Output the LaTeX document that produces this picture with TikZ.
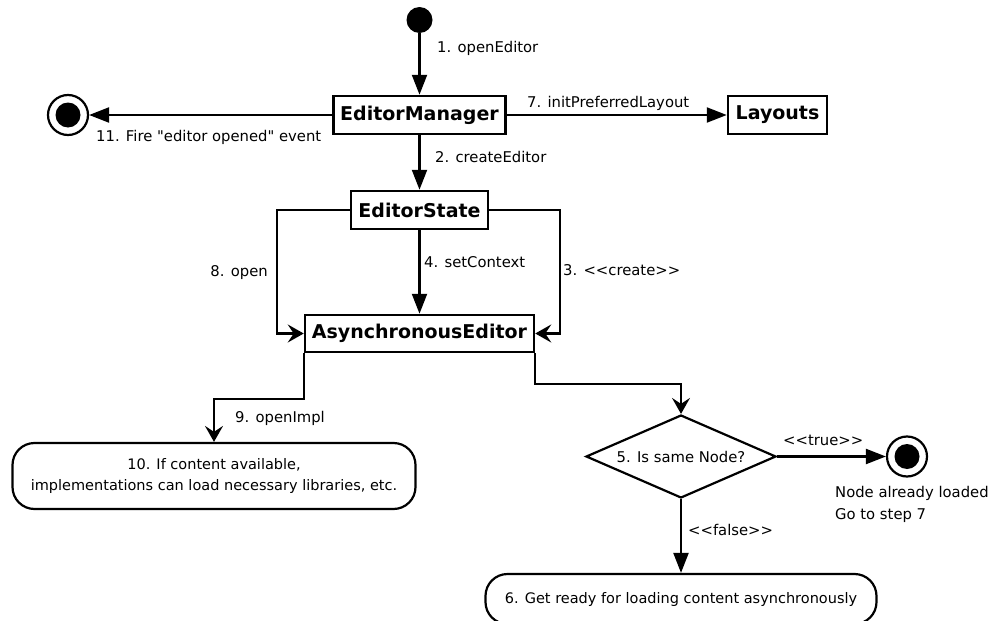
\documentclass[tikz,border=0pt]{standalone}
\usepackage{fontspec}
\setmainfont{DejaVu Sans}[Ligatures=TeXOff]
\usetikzlibrary{arrows.meta,shapes.geometric}
\begin{document}
\begin{tikzpicture}[x=1pt,y=-1pt,
  box/.style={draw,line width=2.5pt,inner sep=0pt,font=\fontsize{19}{22}\selectfont\bfseries},
  lbl/.style={inner sep=0pt,font=\fontsize{14.8}{17}\selectfont},
  rbox/.style={draw,line width=2.2pt,rounded corners=22pt,inner sep=0pt,align=center,font=\fontsize{14.5}{21}\selectfont},
  conn/.style={line width=2.2pt},
  tri/.style={conn,-{Triangle[length=20pt,width=15pt]}},
  opn/.style={conn,-{Stealth[length=16pt,width=18pt,inset=6pt]}},
  fin/.style={draw,circle,line width=2.2pt,minimum size=40pt,inner sep=0pt}]
\useasboundingbox (0,0) rectangle (997,621);
% nodes
\node[circle,fill=black,minimum size=26pt,inner sep=0pt] (start) at (419.5,20) {};
\node[box,minimum width=172pt,minimum height=38pt] (em) at (419.5,115) {EditorManager};
\node[box,minimum width=99pt,minimum height=38pt] (lay) at (777.5,115) {Layouts};
\node[fin] (fin1) at (68,115) {};
\fill (fin1.center) circle (12.5pt);
\node[box,minimum width=137pt,minimum height=38pt] (es) at (419.5,210) {EditorState};
\node[box,minimum width=229pt,minimum height=37pt] (ae) at (419.5,333.5) {AsynchronousEditor};
\node[rbox,minimum width=403pt,minimum height=66pt] (b10) at (214,476) {\raisebox{-3pt}{\begin{tabular}{@{}c@{}}10. If content available,\\implementations can load necessary libraries, etc.\end{tabular}}};
\node[draw,diamond,line width=2.2pt,inner sep=0pt,shape aspect=2.29,minimum width=190pt,minimum height=83pt,font=\fontsize{14.8}{17}\selectfont] (dia) at (681,456.5) {5. Is same Node?};
\node[fin] (fin2) at (907,456.5) {};
\fill (fin2.center) circle (12.5pt);
\node[rbox,rounded corners=22pt,minimum width=391pt,minimum height=50pt] (b6) at (681,599) {6. Get ready for loading content asynchronously};
% connectors
\draw[tri] (start) -- (em);
\draw[tri] (em.west) -- (fin1);
\draw[tri] (em.east) -- (lay.west);
\draw[tri] (em) -- (es);
\draw[tri] (es) -- (ae);
\draw[opn] (es.west) -- ++(-73,0) |- (ae.west);
\draw[opn] (es.east) -- ++(71,0) |- (ae.east);
\draw[opn] (ae.south east) -- ++(0,31) -| (dia.north);
\draw[opn] (ae.south west) -- ++(0,46) -| (b10.north);
\draw[tri] (dia.east) -- (fin2);
\draw[tri] (dia.south) -- (b6.north);
% labels
\node[lbl,anchor=west] (l1) at (437,48) {1. openEditor};
\node[lbl,anchor=west] (l11) at (96,137) {11. Fire "editor opened" event};
\node[lbl,anchor=west] (l2) at (435,157) {2. createEditor};
\node[lbl,anchor=west] (l7) at (527,103) {7. initPreferredLayout};
\node[lbl,anchor=east] (l8) at (268,273) {8. open};
\node[lbl,anchor=west] (l4) at (424,262) {4. setContext};
\node[lbl,anchor=west] (l3) at (563,270) {3. <<create>>};
\node[lbl,anchor=west] (l9) at (235,418) {9. openImpl};
\node[lbl,anchor=west] (lt) at (783,440) {<<true>>};
\node[lbl,anchor=west] (lf) at (688,530) {<<false>>};
\node[lbl,anchor=north west,align=left,font=\fontsize{14.8}{22}\selectfont] (lnd) at (835,486) {Node already loaded\\Go to step 7};
\end{tikzpicture}
\end{document}
